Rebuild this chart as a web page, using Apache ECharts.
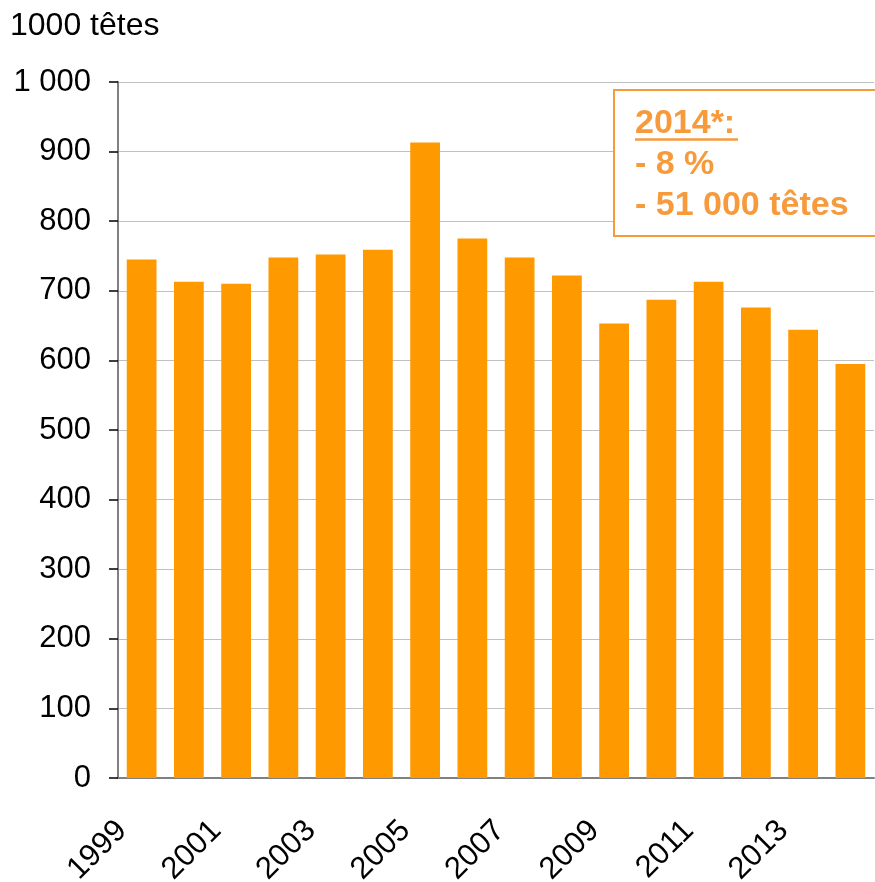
<!DOCTYPE html>
<html>
	<head>
		<meta charset="utf-8" />
		<title>Effectifs</title>
		<style>
			html, body {
				width: 100%;
				height: 100%;
				margin: 0;
				padding: 0;
				background: #fff;
			}
			#main {
				width: 875px;
				height: 882px;
			}
		</style>
	</head>
	<body>
		<div id="main"></div>
		<script src="https://cdn.jsdelivr.net/npm/echarts@6/dist/echarts.min.js"></script>
		<script>
			var years = ['1999', '2000', '2001', '2002', '2003', '2004', '2005', '2006',
				'2007', '2008', '2009', '2010', '2011', '2012', '2013', '2014'];
			var heads = [745, 713, 710, 748, 752, 759, 913, 775, 748, 722, 653, 687, 713, 676, 644, 595];
			var unit = '1000 têtes';
			var note = ['2014*:', '- 8 %', '- 51 000 têtes'];

			var font = 'Liberation Sans, Arial, sans-serif';
			var orange = '#ff9900';
			var noteColor = '#f79a3c';

			var chart = echarts.init(document.getElementById('main'), null, { renderer: 'canvas' });
			chart.setOption({
				animation: false,
				grid: { left: 118, right: 1, top: 82, bottom: 104, outerBoundsMode: 'none' },
				xAxis: {
					type: 'category',
					data: years,
					boundaryGap: true,
					axisLine: { lineStyle: { color: '#808080', width: 2 } },
					axisTick: { interval: 0, length: 10, lineStyle: { color: '#404040', width: 1.5 } },
					axisLabel: {
						interval: 1,
						rotate: 45,
						margin: 28,
						padding: [0, 28, 0, 0],
						color: '#000',
						fontFamily: font,
						fontSize: 31
					}
				},
				yAxis: {
					type: 'value',
					min: 0,
					max: 1000,
					interval: 100,
					axisLine: { show: true, lineStyle: { color: '#808080', width: 2 } },
					axisTick: { show: true, length: 9, lineStyle: { color: '#000', width: 1.5 } },
					splitLine: { lineStyle: { color: '#c0c0c0', width: 1 } },
					axisLabel: {
						margin: 27,
						color: '#000',
						fontFamily: font,
						fontSize: 31,
						formatter: function (v) {
							return v >= 1000 ? '1 000' : String(v);
						}
					}
				},
				series: [{
					type: 'bar',
					data: heads,
					barCategoryGap: '37%',
					itemStyle: { color: orange }
				}],
				graphic: [
					{
						type: 'text',
						left: 10,
						top: 10,
						style: { text: unit, font: '32px ' + font, fill: '#000' }
					},
					{
						type: 'rect',
						shape: { x: 614, y: 90, width: 280, height: 146 },
						style: { fill: '#fff', stroke: noteColor, lineWidth: 2 },
						z: 100
					},
					{
						type: 'text',
						x: 635,
						y: 103,
						z: 101,
						style: {
							text: note.join('\n'),
							font: 'bold 34px ' + font,
							fill: noteColor,
							lineHeight: 41
						}
					},
					{
						type: 'line',
						shape: { x1: 635, y1: 139.5, x2: 738, y2: 139.5 },
						style: { stroke: noteColor, lineWidth: 2.5 },
						z: 101
					}
				]
			});
		</script>
	</body>
</html>
